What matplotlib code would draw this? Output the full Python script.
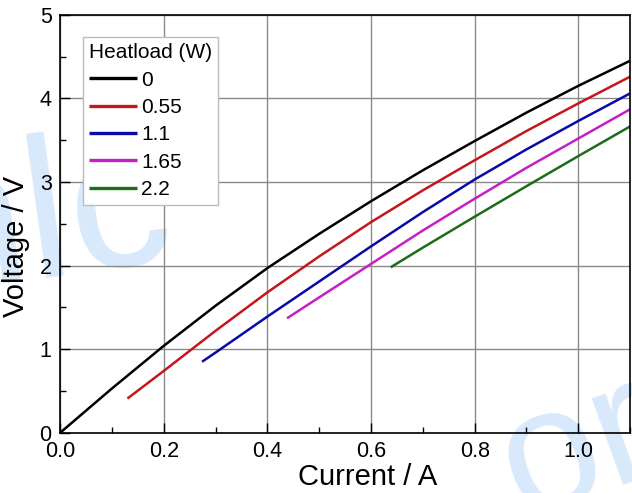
import matplotlib

matplotlib.use("Agg")
import matplotlib.pyplot as plt
from matplotlib.ticker import MultipleLocator

plt.rcParams["font.family"] = ["Liberation Sans", "DejaVu Sans"]

# V-I curves for each heat load (current in A, voltage in V)
I_0 = [0.0, 0.1, 0.2, 0.3, 0.4, 0.5, 0.6, 0.7, 0.8, 0.9, 1.0, 1.1]
V_0 = [0.0, 0.53, 1.04, 1.52, 1.97, 2.38, 2.77, 3.14, 3.49, 3.83, 4.15, 4.45]

I_055 = [0.13, 0.2, 0.3, 0.4, 0.5, 0.6, 0.7, 0.8, 0.9, 1.0, 1.1]
V_055 = [0.41, 0.74, 1.22, 1.68, 2.11, 2.52, 2.90, 3.26, 3.61, 3.94, 4.26]

I_11 = [0.274, 0.3, 0.4, 0.5, 0.6, 0.7, 0.8, 0.9, 1.0, 1.1]
V_11 = [0.85, 0.96, 1.39, 1.81, 2.23, 2.64, 3.03, 3.39, 3.73, 4.06]

I_165 = [0.438, 0.5, 0.6, 0.7, 0.8, 0.9, 1.0, 1.1]
V_165 = [1.37, 1.62, 2.02, 2.42, 2.80, 3.17, 3.52, 3.87]

I_22 = [0.638, 0.7, 0.8, 0.9, 1.0, 1.1]
V_22 = [1.98, 2.215, 2.585, 2.95, 3.31, 3.665]

labels = ["0", "0.55", "1.1", "1.65", "2.2"]
colors = ["#000000", "#c4161c", "#0a0aa8", "#c51fc5", "#1a6e1a"]
series = [(I_0, V_0), (I_055, V_055), (I_11, V_11), (I_165, V_165), (I_22, V_22)]

fig = plt.figure(figsize=(6.32, 4.93), dpi=100)
ax = fig.add_axes([0.095, 0.122, 0.902, 0.848])

# faint background watermark
ax.text(-0.03, 0.50, "nlc", transform=ax.transAxes, fontsize=145,
        color="#d9e9fc", rotation=8, ha="center", va="center", zorder=0,
        clip_on=False)
ax.text(0.91, -0.04, "or", transform=ax.transAxes, fontsize=125,
        color="#d9e9fc", rotation=20, ha="center", va="center", zorder=0,
        clip_on=False)

for (x, y), lab, c in zip(series, labels, colors):
    ax.plot(x, y, color=c, lw=1.8, label=lab, zorder=3,
            solid_joinstyle="round", solid_capstyle="butt")

ax.set_xlim(0, 1.1)
ax.set_ylim(0, 5)
ax.xaxis.set_major_locator(MultipleLocator(0.2))
ax.xaxis.set_minor_locator(MultipleLocator(0.1))
ax.yaxis.set_major_locator(MultipleLocator(1))
ax.yaxis.set_minor_locator(MultipleLocator(0.5))
ax.xaxis.set_major_formatter(plt.FormatStrFormatter("%.1f"))
ax.tick_params(which="both", direction="in", labelsize=15.5)
ax.tick_params(which="major", length=7, width=1, pad=6)
ax.tick_params(which="minor", length=4, width=1)
ax.grid(True, which="major", color="#8a8a8a", lw=1.0, zorder=1)
ax.set_axisbelow(True)
for s in ax.spines.values():
    s.set_linewidth(1.2)
    s.set_zorder(4)

ax.set_xlabel("Current / A", fontsize=21)
ax.set_ylabel("Voltage / V", fontsize=21)
ax.xaxis.set_label_coords(0.539, -0.072)
ax.yaxis.set_label_coords(-0.052, 0.445)

leg = ax.legend(title="Heatload (W)", loc="upper left",
                bbox_to_anchor=(0.04, 0.947), fontsize=15, title_fontsize=15,
                handlelength=2.3, handletextpad=0.2, labelspacing=0.4,
                borderpad=0.3, borderaxespad=0, fancybox=False, framealpha=1,
                edgecolor="#bbbbbb")
leg.get_frame().set_linewidth(1.0)
for h in leg.get_lines():
    h.set_linewidth(2.4)
leg._legend_box.align = "left"

fig.savefig("out.png", dpi=100)
